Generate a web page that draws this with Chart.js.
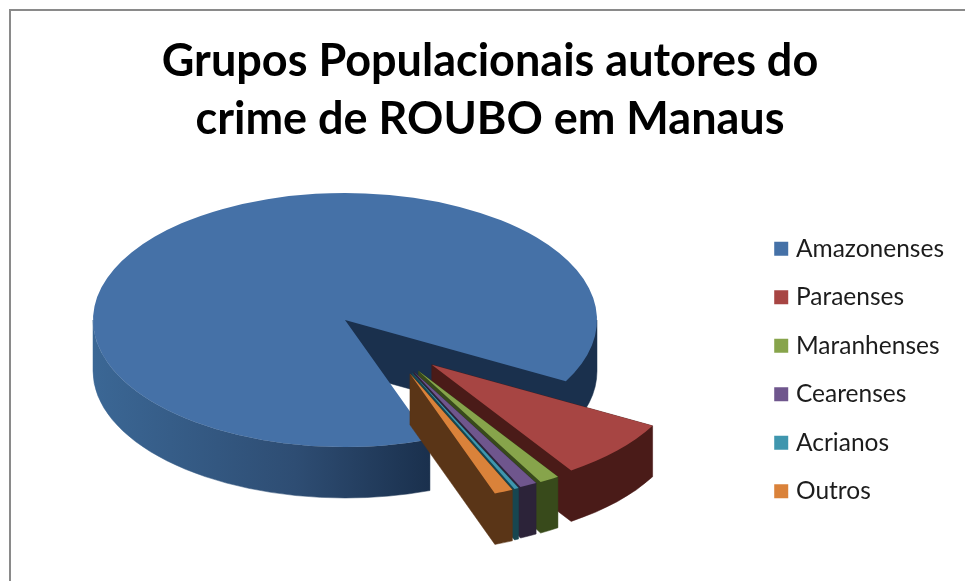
<!DOCTYPE html>
<html lang="pt">
<head>
<meta charset="utf-8">
<title>Grupos Populacionais autores do crime de ROUBO em Manaus</title>
<script src="https://cdn.jsdelivr.net/npm/chart.js@4/dist/chart.umd.min.js"></script>
<style>
  html, body { margin: 0; padding: 0; background: #fff; overflow: hidden; }
  canvas { display: block; }
</style>
</head>
<body>
<canvas id="grafico" width="965" height="581"></canvas>
<script>
// Dados: participação percentual de cada grupo
const categories = ['Amazonenses', 'Paraenses', 'Maranhenses', 'Cearenses', 'Acrianos', 'Outros'];
const seriesValues = [88.47, 7.67, 1.28, 1.11, 0.28, 1.19];
const titleLines = ['Grupos Populacionais autores do', 'crime de ROUBO em Manaus'];

// Aparência das fatias
const topColors = ['#4571a7', '#a74543', '#87a44b', '#6f568d', '#3f96ae', '#da823a'];
const wallColors = ['#1a304d', '#4a1b18', '#384a1b', '#2c2339', '#174650', '#5a3517'];
const explodeDistance = [0, 124, 125, 124, 124.5, 125];
const explodeDirection = [0, 45.6, 54, 56.2, 57.4, 58.7];

// Projeção do disco em perspectiva
const PIE_X = 345, PIE_Y = 320, PIE_RADIUS = 252, SQUASH = 0.504, DEPTH = 51;

function paintWall(ctx, fill) {
  ctx.fillStyle = fill;
  ctx.strokeStyle = fill;
  ctx.lineWidth = 0.5;
  ctx.lineJoin = 'round';
  ctx.fill();
  ctx.stroke();
}

// Faixa curva da borda externa, sem parede reta
function outerWall(ctx, x, y, r, lo, hi, fill) {
  ctx.beginPath();
  ctx.ellipse(x, y, r, r * SQUASH, 0, lo, hi, false);
  ctx.ellipse(x, y + DEPTH, r, r * SQUASH, 0, hi, lo, true);
  ctx.closePath();
  paintWall(ctx, fill);
}

// Silhueta única da parede reta do fim da fatia e da borda externa adjacente
function sweptWall(ctx, x, y, r, lo, hi, fill) {
  ctx.beginPath();
  ctx.moveTo(x, y);
  ctx.lineTo(x, y + DEPTH);
  ctx.ellipse(x, y + DEPTH, r, r * SQUASH, 0, hi, lo, true);
  ctx.lineTo(x + r * Math.cos(lo), y + r * SQUASH * Math.sin(lo));
  ctx.closePath();
  paintWall(ctx, fill);
}

// Moldura cinza da área do gráfico
const framePlugin = {
  id: 'frame',
  beforeDraw(chart) {
    const ctx = chart.ctx;
    ctx.save();
    ctx.strokeStyle = '#8a8a8a';
    ctx.lineWidth = 2;
    ctx.beginPath();
    ctx.moveTo(10, chart.height);
    ctx.lineTo(10, 10);
    ctx.lineTo(chart.width, 10);
    ctx.stroke();
    ctx.restore();
  }
};

// Desenha as fatias do Chart.js como um disco com espessura, com as fatias destacadas
const pie3dPlugin = {
  id: 'pie3d',
  beforeDatasetsDraw(chart) {
    const ctx = chart.ctx;
    const arcs = chart.getDatasetMeta(0).data;
    arcs.forEach((arc, i) => {
      const dir = explodeDirection[i] * Math.PI / 180;
      const x = PIE_X + explodeDistance[i] * Math.cos(dir);
      const y = PIE_Y + explodeDistance[i] * Math.sin(dir) * SQUASH;
      const r = arc.outerRadius;
      const a0 = arc.startAngle, a1 = arc.endAngle;

      const shaded = ctx.createLinearGradient(x - r, 0, x + 85, 0);
      shaded.addColorStop(0, '#3b6795');
      shaded.addColorStop(0.6, '#2e4d73');
      shaded.addColorStop(1, wallColors[0]);

      ctx.save();
      for (let k = 0; k < 2; k++) {
        const lo = Math.max(a0, k * 2 * Math.PI);
        const hi = Math.min(a1, k * 2 * Math.PI + Math.PI);
        if (lo >= hi) continue;
        if (hi === a1) sweptWall(ctx, x, y, r, lo, hi, wallColors[i]);
        else outerWall(ctx, x, y, r, lo, hi, shaded);
      }
      ctx.restore();

      ctx.save();
      ctx.translate(x, y);
      ctx.scale(1, SQUASH);
      ctx.translate(-arc.x, -arc.y);
      arc.draw(ctx);
      ctx.restore();
    });
    return false;
  }
};

new Chart(document.getElementById('grafico'), {
  type: 'pie',
  data: {
    labels: categories,
    datasets: [{
      data: seriesValues,
      backgroundColor: topColors,
      borderWidth: 0
    }]
  },
  plugins: [framePlugin, pie3dPlugin],
  options: {
    responsive: false,
    animation: false,
    rotation: 160.3,
    radius: PIE_RADIUS,
    layout: { padding: { left: 26, right: 11, top: 0, bottom: 0 } },
    plugins: {
      tooltip: { enabled: false },
      title: {
        display: true,
        text: titleLines,
        color: '#000',
        font: { family: 'Lato', size: 45, weight: 'bold', lineHeight: 1.29 },
        padding: { top: 32, bottom: 11 }
      },
      legend: {
        display: true,
        position: 'right',
        fullSize: false,
        labels: {
          font: { family: 'Lato', size: 24.5 },
          color: '#1c1c1c',
          boxWidth: 5,
          boxHeight: 5,
          padding: 24,
          generateLabels() {
            return categories.map((name, i) => ({
              text: name,
              fillStyle: topColors[i],
              strokeStyle: topColors[i],
              lineWidth: 9,
              lineJoin: 'miter',
              fontColor: '#1c1c1c',
              index: i
            }));
          }
        }
      }
    }
  }
});
</script>
</body>
</html>
